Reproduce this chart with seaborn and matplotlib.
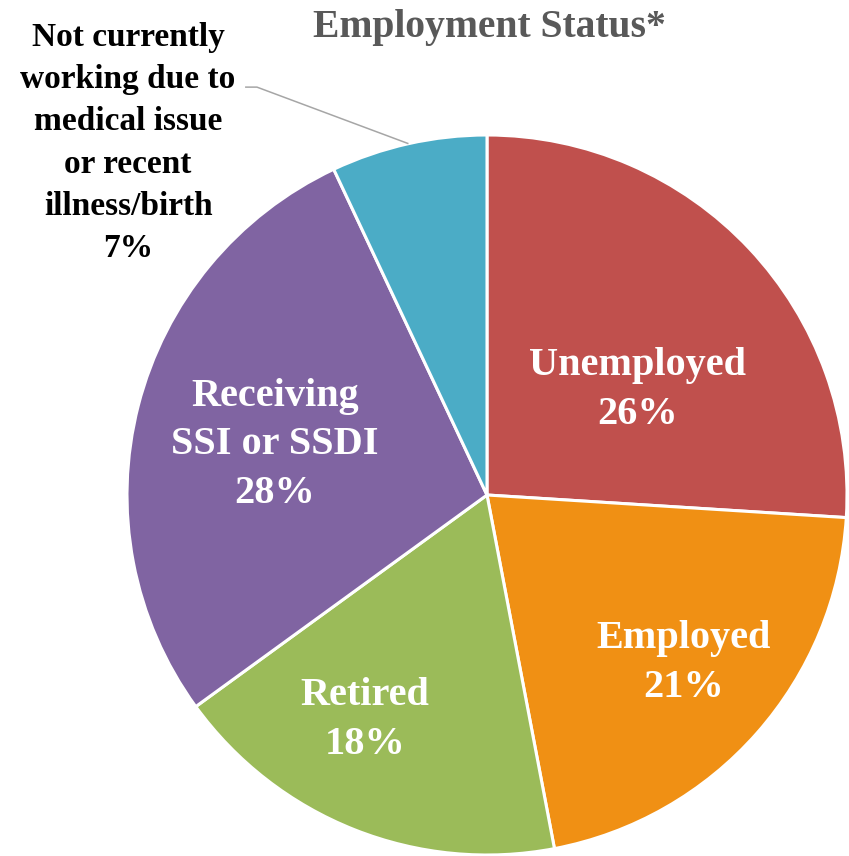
import matplotlib
matplotlib.use("Agg")
import matplotlib.pyplot as plt
import numpy as np
import seaborn as sns

# Survey results
categories = ["Unemployed", "Employed", "Retired", "Receiving\nSSI or SSDI",
              "Not currently\nworking due to\nmedical issue\nor recent\nillness/birth"]
shares = [26, 21, 18, 28, 7]
slice_colors = ["#C0504D", "#F09014", "#9BBB59", "#8064A2", "#4BACC6"]
title = "Employment Status*"

sns.set_theme(style="white")
plt.rcParams["font.family"] = ["Liberation Serif", "DejaVu Serif"]

W, H = 849, 856
fig = plt.figure(figsize=(W / 100, H / 100), dpi=100)
ax = fig.add_axes([0, 0, 1, 1])

palette = sns.color_palette(slice_colors)
wedges, _ = ax.pie(shares, colors=palette, startangle=90, counterclock=False,
                   radius=1.0, wedgeprops=dict(edgecolor="white", linewidth=2.2))

# pie centre at (487, 495) px, radius 360 px
cx, cy, r = 487, 495, 360
ax.set_xlim(-cx / r, (W - cx) / r)
ax.set_ylim(-(H - cy) / r, cy / r)
ax.set_aspect("auto")
ax.axis("off")

# label placement inside slices (data units relative to pie radius)
inside_pos = {0: (0.419, 0.292), 1: (0.547, -0.467), 2: (-0.339, -0.625), 3: (-0.589, 0.139)}
for i, (x, y) in inside_pos.items():
    ax.text(x, y, f"{categories[i]}\n{shares[i]}%", ha="center", va="center",
            color="white", fontsize=29, fontweight="bold", linespacing=1.42)

# outside label with leader line for the smallest slice
w = wedges[4]
mid = np.deg2rad((w.theta1 + w.theta2) / 2)
tip = (np.cos(mid), np.sin(mid))
elbow = (-0.639, 1.133)
start = (-0.672, 1.133)
ax.plot([start[0], elbow[0], tip[0]], [start[1], elbow[1], tip[1]],
        color="#A6A6A6", linewidth=1.1, solid_capstyle="butt", clip_on=False)
ax.text(-0.997, 0.978, f"{categories[4]}\n{shares[4]}%", ha="center", va="center",
        color="black", fontsize=24, fontweight="bold", linespacing=1.47)

fig.text(489 / W, 1 - 27 / H, title, ha="center", va="center",
         color="#595959", fontsize=28.5, fontweight="bold")

fig.savefig("out.png", dpi=100)
